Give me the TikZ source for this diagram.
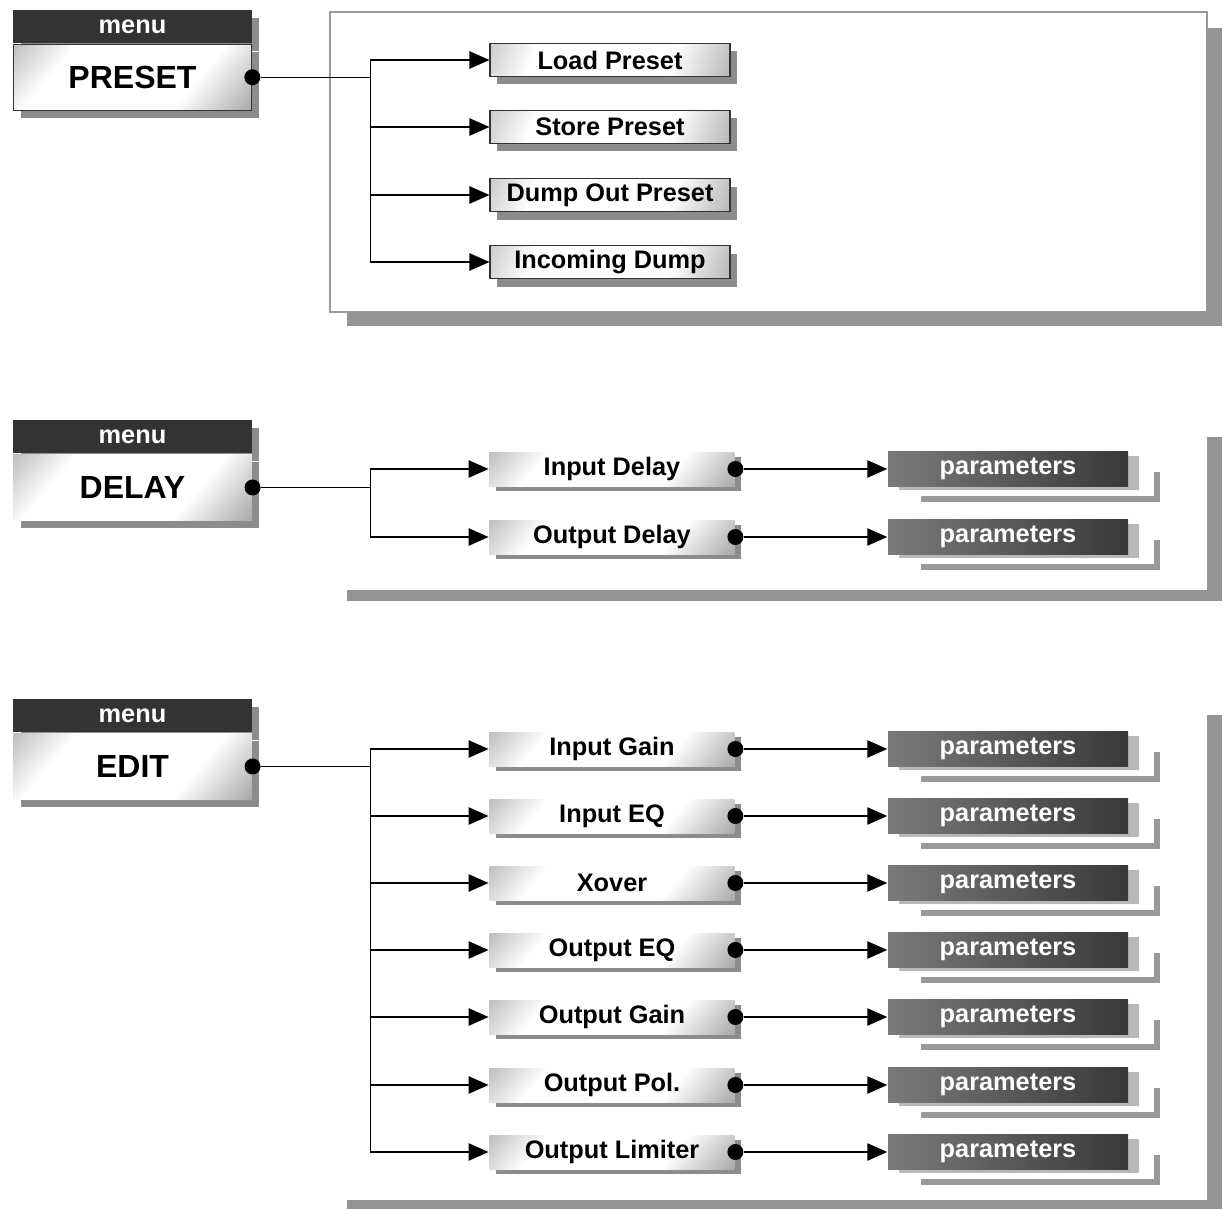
\documentclass[tikz,border=0pt]{standalone}
\usepackage{fontspec}
\setmainfont{Liberation Sans}
\usetikzlibrary{positioning,arrows.meta,calc,shadows}

\pgfdeclarehorizontalshading{boxshade}{100bp}{color(0bp)=(black!50); color(30bp)=(white); color(66bp)=(white); color(100bp)=(black!60)}

\begin{document}
\begin{tikzpicture}[x=0.75pt, y=-0.75pt, line width=1.1pt,
  font=\fontsize{19}{22}\selectfont\bfseries,
  >={Triangle[length=15pt,width=13pt]},
  boxshadow/.style={drop shadow={shadow xshift=5.5pt, shadow yshift=-6pt, fill=black!45, opacity=1}},
  menuhead/.style={fill=black!80, text=white, minimum width=179pt, minimum height=24.75pt,
    inner sep=0pt, boxshadow},
  menubody/.style={shading=boxshade, shading angle=-40, minimum width=179pt, minimum height=49.5pt,
    inner sep=0pt, font=\fontsize{24}{28}\selectfont\bfseries, boxshadow},
  framed/.style={draw=black!80, line width=0.8pt},
  presetitem/.style={shading=boxshade, shading angle=-20, draw=black!80, line width=0.8pt,
    minimum width=180pt, minimum height=24.75pt, inner sep=0pt, boxshadow},
  rowitem/.style={shading=boxshade, shading angle=-40, minimum width=184pt, minimum height=25.5pt,
    inner sep=0pt, drop shadow={shadow xshift=5pt, shadow yshift=-3.5pt, fill=black!45, opacity=1}},
  paramitem/.style={left color=black!52, right color=black!78, text=white, minimum width=180pt,
    minimum height=26pt, inner sep=0pt,
    drop shadow={shadow xshift=8pt, shadow yshift=-3pt, fill=black!28, opacity=1}},
  paramshadow/.style={draw=black!40, line width=4.5pt},
  dotnode/.style={circle, fill=black, inner sep=0pt, minimum size=12pt},
  frameshadow/.style={fill=black!42}]
\useasboundingbox (0,0) rectangle (1223,1209);

% frames behind the three groups
\draw[black!40, line width=0.8pt] (330,12) rectangle (1207,312);
\fill[frameshadow] (347,312) rectangle (1222,326);
\fill[frameshadow] (1207,28) rectangle (1222,326);
\fill[frameshadow] (347,590) rectangle (1222,601);
\fill[frameshadow] (1207,437) rectangle (1222,601);
\fill[frameshadow] (347,1200) rectangle (1222,1209);
\fill[frameshadow] (1207,715) rectangle (1222,1209);

% PRESET
\node[menuhead] (presethead) at (132.5,26.5) {menu};
\node[menubody, framed, below=0pt of presethead] (preset) {PRESET};
\node[dotnode] (presetdot) at (preset.east) {};
\coordinate (presetbus) at ($(presetdot)+(118,0)$);
\draw (presetdot) -- (presetbus);
\foreach \nm/\txt/\yy in {loadpre/Load Preset/60, storepre/Store Preset/127,
    dumppre/Dump Out Preset/195, indump/Incoming Dump/262}{
  \node[presetitem] (\nm) at (610,\yy) {\txt};
  \draw[->] (presetbus) |- (\nm);
}

% DELAY
\node[menuhead] (delayhead) at (132.5,436.5) {menu};
\node[menubody, below=0pt of delayhead] (delay) {DELAY};
\node[dotnode] (delaydot) at (delay.east) {};
\coordinate (delaybus) at ($(delaydot)+(118,0)$);
\draw (delaydot) -- (delaybus);
\foreach \nm/\txt/\yy in {indelay/Input Delay/469, outdelay/Output Delay/537}{
  \node[rowitem] (\nm) at (612,\yy) {\txt};
  \node[dotnode] (\nm dot) at (\nm.east) {};
  \node[paramitem] (\nm par) at (1008,\yy) {parameters};
  \draw[paramshadow] ($(\nm par.south west)+(34,12)$) -| ($(\nm par.east)+(28,3)$);
  \draw[->] (delaybus) |- (\nm);
  \draw[->] (\nm dot) -- (\nm par);
}

% EDIT
\node[menuhead] (edithead) at (132.5,715.5) {menu};
\node[menubody, below=0pt of edithead] (edit) {EDIT};
\node[dotnode] (editdot) at (edit.east) {};
\coordinate (editbus) at ($(editdot)+(118,0)$);
\draw (editdot) -- (editbus);
\foreach \nm/\txt/\yy in {ingain/Input Gain/749, ineq/Input EQ/816, xover/Xover/883,
    outeq/Output EQ/950, outgain/Output Gain/1017, outpol/Output Pol./1085,
    outlim/Output Limiter/1152}{
  \node[rowitem] (\nm) at (612,\yy) {\txt};
  \node[dotnode] (\nm dot) at (\nm.east) {};
  \node[paramitem] (\nm par) at (1008,\yy) {parameters};
  \draw[paramshadow] ($(\nm par.south west)+(34,12)$) -| ($(\nm par.east)+(28,3)$);
  \draw[->] (editbus) |- (\nm);
  \draw[->] (\nm dot) -- (\nm par);
}
\end{tikzpicture}
\end{document}
